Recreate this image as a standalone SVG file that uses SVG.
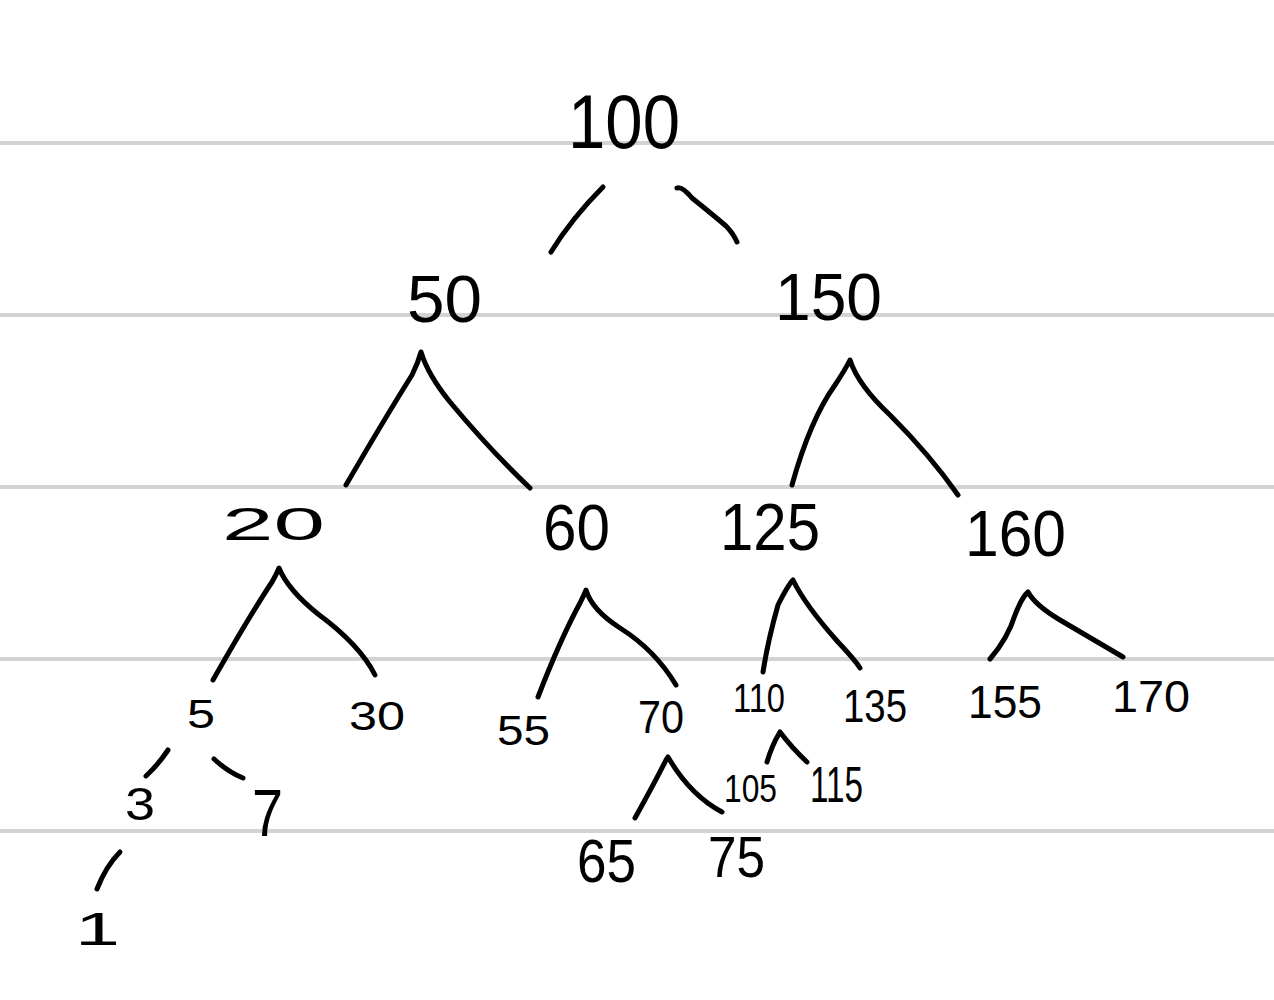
<svg xmlns="http://www.w3.org/2000/svg" width="1274" height="1000" viewBox="0 0 1274 1000">
<style>
.rule{stroke:#d3d3d3;stroke-width:4}
.edge{fill:none;stroke:#000;stroke-width:5;stroke-linecap:round;stroke-linejoin:round}
text{font-family:"Liberation Sans","DejaVu Sans",sans-serif;fill:#000}
</style>
<rect width="1274" height="1000" fill="#fff"/>
<g id="ruled-lines">
<line class="rule" x1="0" y1="143" x2="1274" y2="143"/>
<line class="rule" x1="0" y1="315" x2="1274" y2="315"/>
<line class="rule" x1="0" y1="487" x2="1274" y2="487"/>
<line class="rule" x1="0" y1="659" x2="1274" y2="659"/>
<line class="rule" x1="0" y1="831" x2="1274" y2="831"/>
</g>
<g id="connectors">
<path class="edge" d="M603,187 Q572,218 551,252"/>
<path class="edge" d="M677,188 Q682,186 692,198 Q712,214 726,226 Q733,233 737,242"/>
<path class="edge" d="M346,485 Q385,418 412,375 Q418,363 421,352 Q428,375 450,402 Q490,450 530,488"/>
<path class="edge" d="M792,485 Q810,420 835,385 Q845,370 850,360 Q858,385 890,415 Q930,455 958,495"/>
<path class="edge" d="M213,680 Q250,615 272,582 Q277,573 279,568 Q288,590 318,614 Q360,645 375,675"/>
<path class="edge" d="M538,697 Q560,640 580,603 Q584,595 586,590 Q592,610 620,628 Q655,650 676,685"/>
<path class="edge" d="M763,672 Q768,640 778,605 Q788,585 793,580 Q805,605 838,642 Q855,660 860,668"/>
<path class="edge" d="M990,659 Q1008,638 1015,615 Q1022,597 1028,592 Q1035,605 1060,620 L1123,657"/>
<path class="edge" d="M168,750 Q158,765 146,776"/>
<path class="edge" d="M214,759 Q228,772 243,778"/>
<path class="edge" d="M120,852 Q106,866 97,889"/>
<path class="edge" d="M635,818 Q655,782 666,760 L668,757 Q690,795 722,812"/>
<path class="edge" d="M767,762 Q772,745 780,732 Q792,748 807,762"/>
</g>
<g id="node-100"><text x="568" y="148" font-size="76" textLength="112" lengthAdjust="spacingAndGlyphs">100</text></g>
<g id="node-50"><text x="407" y="322" font-size="66" textLength="75" lengthAdjust="spacingAndGlyphs">50</text></g>
<g id="node-150"><text x="775" y="320" font-size="66" textLength="107" lengthAdjust="spacingAndGlyphs">150</text></g>
<g id="node-20"><text x="222" y="540" font-size="46" textLength="103" lengthAdjust="spacingAndGlyphs">20</text></g>
<g id="node-60"><text x="543" y="550" font-size="64" textLength="67" lengthAdjust="spacingAndGlyphs">60</text></g>
<g id="node-125"><text x="720" y="550" font-size="66" textLength="100" lengthAdjust="spacingAndGlyphs">125</text></g>
<g id="node-160"><text x="965" y="556" font-size="64" textLength="101" lengthAdjust="spacingAndGlyphs">160</text></g>
<g id="node-5"><text x="187" y="728" font-size="40" textLength="28" lengthAdjust="spacingAndGlyphs">5</text></g>
<g id="node-30"><text x="349" y="730" font-size="40" textLength="56" lengthAdjust="spacingAndGlyphs">30</text></g>
<g id="node-55"><text x="497" y="745" font-size="42" textLength="53" lengthAdjust="spacingAndGlyphs">55</text></g>
<g id="node-70"><text x="638" y="733" font-size="46" textLength="46" lengthAdjust="spacingAndGlyphs">70</text></g>
<g id="node-110"><text x="733" y="712" font-size="41" textLength="52" lengthAdjust="spacingAndGlyphs">110</text></g>
<g id="node-135"><text x="843" y="722" font-size="47" textLength="64" lengthAdjust="spacingAndGlyphs">135</text></g>
<g id="node-155"><text x="968" y="718" font-size="46" textLength="74" lengthAdjust="spacingAndGlyphs">155</text></g>
<g id="node-170"><text x="1112" y="712" font-size="45" textLength="78" lengthAdjust="spacingAndGlyphs">170</text></g>
<g id="node-3"><text x="125" y="820" font-size="46" textLength="30" lengthAdjust="spacingAndGlyphs">3</text></g>
<g id="node-7"><text x="252" y="836" font-size="66" textLength="31" lengthAdjust="spacingAndGlyphs">7</text></g>
<g id="node-1"><text x="75" y="945" font-size="46" textLength="45" lengthAdjust="spacingAndGlyphs">1</text></g>
<g id="node-105"><text x="724" y="802" font-size="38" textLength="53" lengthAdjust="spacingAndGlyphs">105</text></g>
<g id="node-115"><text x="810" y="802" font-size="50" textLength="53" lengthAdjust="spacingAndGlyphs">115</text></g>
<g id="node-65"><text x="577" y="882" font-size="62" textLength="59" lengthAdjust="spacingAndGlyphs">65</text></g>
<g id="node-75"><text x="708" y="877" font-size="58" textLength="57" lengthAdjust="spacingAndGlyphs">75</text></g>
</svg>
